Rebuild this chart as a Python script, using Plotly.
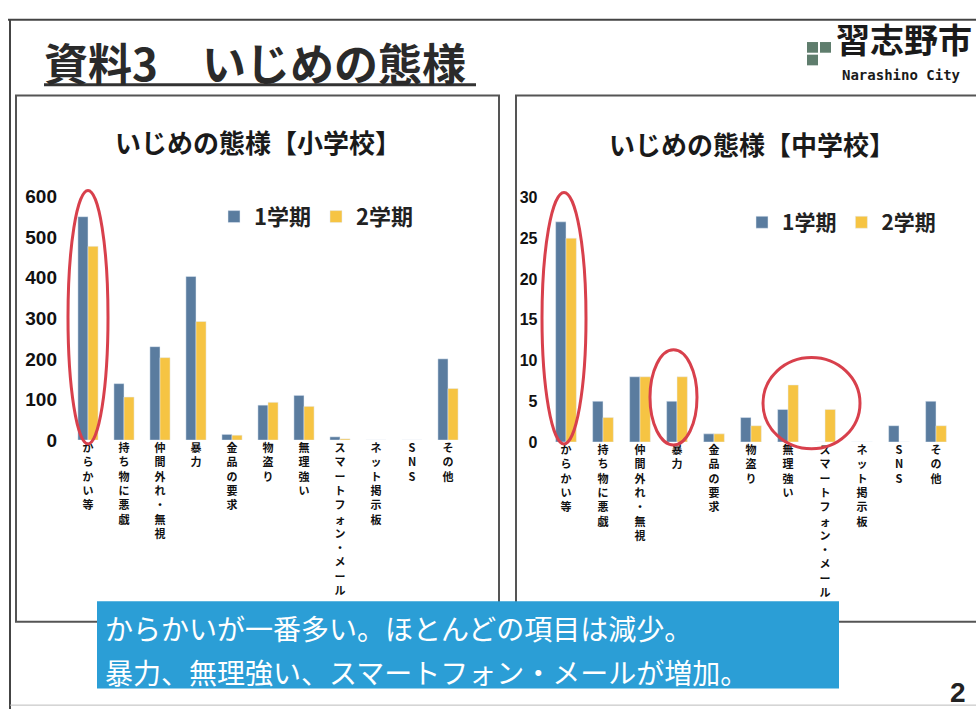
import plotly.graph_objects as go

W, H = 976, 720

categories = ["からかい等", "持ち物に悪戯", "仲間外れ・無視", "暴力", "金品の要求", "物盗り",
              "無理強い", "スマートフォン・メール", "ネット掲示板", "SNS", "その他"]
elem_term1 = [550, 139, 230, 403, 14, 86, 110, 8, 0, 0, 200]
elem_term2 = [477, 106, 203, 292, 12, 93, 83, 3, 0, 0, 127]
jhs_term1 = [27, 5, 8, 5, 1, 3, 4, 0, 0, 2, 5]
jhs_term2 = [25, 3, 8, 8, 1, 2, 7, 4, 0, 0, 2]
series_names = ["1学期", "2学期"]
elem_yticks = [0, 100, 200, 300, 400, 500, 600]
jhs_yticks = [0, 5, 10, 15, 20, 25, 30]

BLUE = "#5a7c9f"
YELLOW = "#f6c443"
RED = "#d8404c"
JP = "Noto Sans CJK JP"
NUM = "Liberation Sans, Noto Sans CJK JP"

vert_labels = ["<br>".join(list(c)) for c in categories]


def px(x):
    return x / W


def py(y):
    return 1 - y / H


fig = go.Figure()
fig.add_trace(go.Bar(x=categories, y=elem_term1, name=series_names[0], marker_color=BLUE,
                     xaxis="x", yaxis="y", legend="legend"))
fig.add_trace(go.Bar(x=categories, y=elem_term2, name=series_names[1], marker_color=YELLOW,
                     xaxis="x", yaxis="y", legend="legend"))
fig.add_trace(go.Bar(x=categories, y=jhs_term1, name=series_names[0], marker_color=BLUE,
                     xaxis="x2", yaxis="y2", legend="legend2"))
fig.add_trace(go.Bar(x=categories, y=jhs_term2, name=series_names[1], marker_color=YELLOW,
                     xaxis="x2", yaxis="y2", legend="legend2"))

xcommon = dict(type="category", categoryorder="array", categoryarray=categories,
               tickmode="array", tickvals=categories, ticktext=vert_labels,
               tickangle=0, showgrid=False, showline=False, zeroline=False, ticks="",
               tickfont=dict(family=JP, size=11, color="#111", weight="bold"))

fig.update_layout(
    width=W, height=H, margin=dict(l=0, r=0, t=0, b=0),
    paper_bgcolor="white", plot_bgcolor="rgba(0,0,0,0)",
    barmode="group", bargap=0.44, bargroupgap=0,
    xaxis=dict(domain=[px(70), px(466)], anchor="y", **xcommon),
    yaxis=dict(domain=[py(443), py(192)], anchor="x", range=[0, 600],
               tickvals=elem_yticks, showgrid=False, zeroline=False, showline=False,
               ticks="", ticklabelstandoff=12,
               tickfont=dict(family=NUM, size=19, color="#111", weight="bold")),
    xaxis2=dict(domain=[px(547.5), px(954.5)], anchor="y2", **xcommon),
    yaxis2=dict(domain=[py(445), py(193)], anchor="x2", range=[0, 30],
                tickvals=jhs_yticks, showgrid=False, zeroline=False, showline=False,
                ticks="", ticklabelstandoff=9,
                tickfont=dict(family=NUM, size=16, color="#111", weight="bold")),
    legend=dict(x=px(214), y=py(213), xanchor="left", yanchor="middle",
                orientation="h", bgcolor="rgba(0,0,0,0)", itemwidth=30,
                font=dict(family=JP, size=22, color="#222", weight="bold")),
    legend2=dict(x=px(742), y=py(219), xanchor="left", yanchor="middle",
                 orientation="h", bgcolor="rgba(0,0,0,0)", itemwidth=30,
                 font=dict(family=JP, size=21, color="#222", weight="bold")),
    font=dict(family=JP),
)

shapes = []
line_dark = dict(color="#444", width=2)
# slide frame
shapes.append(dict(type="line", xref="paper", yref="paper", x0=px(8), x1=px(990), y0=py(10), y1=py(10), line=line_dark))
shapes.append(dict(type="line", xref="paper", yref="paper", x0=px(10), x1=px(10), y0=py(10), y1=py(720), line=line_dark))
# panel boxes
shapes.append(dict(type="rect", xref="paper", yref="paper", x0=px(16), x1=px(499), y0=py(88), y1=py(630),
                   line=dict(color="#555", width=2)))
shapes.append(dict(type="rect", xref="paper", yref="paper", x0=px(516), x1=px(1000), y0=py(88), y1=py(630),
                   line=dict(color="#555", width=2)))
# title underline
shapes.append(dict(type="line", xref="paper", yref="paper", x0=px(44), x1=px(476), y0=py(77), y1=py(77),
                   line=dict(color="#333", width=3)))
# logo icon
shapes.append(dict(type="rect", xref="paper", yref="paper", x0=px(807), x1=px(818), y0=py(33), y1=py(44),
                   fillcolor="#5f7d6d", line=dict(width=0)))
shapes.append(dict(type="rect", xref="paper", yref="paper", x0=px(820), x1=px(831), y0=py(33), y1=py(44),
                   fillcolor="#5f7d6d", line=dict(width=0)))
shapes.append(dict(type="rect", xref="paper", yref="paper", x0=px(807), x1=px(818), y0=py(46), y1=py(57),
                   fillcolor="#5f7d6d", line=dict(width=0)))
# bottom line
shapes.append(dict(type="line", xref="paper", yref="paper", x0=px(10), x1=px(990), y0=py(716), y1=py(716),
                   line=dict(color="#bbb", width=1)))
# blue message box
shapes.append(dict(type="rect", xref="paper", yref="paper", x0=px(97), x1=px(839), y0=py(609), y1=py(699),
                   fillcolor="#2b9ed6", line=dict(width=0), layer="above"))
# red highlight ellipses
ell = dict(color=RED, width=3)
shapes.append(dict(type="circle", xref="paper", yref="paper", x0=px(68), x1=px(108), y0=py(447), y1=py(186), line=ell))
shapes.append(dict(type="circle", xref="paper", yref="paper", x0=px(542), x1=px(586), y0=py(447), y1=py(188), line=ell))
shapes.append(dict(type="circle", xref="paper", yref="paper", x0=px(650), x1=px(697), y0=py(448), y1=py(350), line=ell))
shapes.append(dict(type="circle", xref="paper", yref="paper", x0=px(763), x1=px(860), y0=py(452), y1=py(358), line=ell))
fig.update_layout(shapes=shapes)

ann = []
ann.append(dict(text="資料3　いじめの態様", x=px(42), y=py(54), xref="paper", yref="paper",
                xanchor="left", yanchor="middle", showarrow=False,
                font=dict(family=JP, size=44, color="#2a2a2a", weight="bold")))
ann.append(dict(text="習志野市", x=px(834), y=py(57), xref="paper", yref="paper",
                xanchor="left", yanchor="bottom", showarrow=False,
                font=dict(family=JP, size=34, color="#1a1a1a", weight="bold")))
ann.append(dict(text="Narashino City", x=px(840), y=py(57), xref="paper", yref="paper",
                xanchor="left", yanchor="top", showarrow=False,
                font=dict(family="DejaVu Sans Mono", size=14, color="#1a1a1a", weight="bold")))
ann.append(dict(text="いじめの態様【小学校】", x=px(258), y=py(135), xref="paper", yref="paper",
                xanchor="center", yanchor="middle", showarrow=False,
                font=dict(family=JP, size=26, color="#1a1a1a", weight="bold")))
ann.append(dict(text="いじめの態様【中学校】", x=px(752), y=py(138), xref="paper", yref="paper",
                xanchor="center", yanchor="middle", showarrow=False,
                font=dict(family=JP, size=26, color="#1a1a1a", weight="bold")))
ann.append(dict(text="からかいが一番多い。ほとんどの項目は減少。", x=px(103), y=py(637), xref="paper", yref="paper",
                xanchor="left", yanchor="middle", showarrow=False,
                font=dict(family=JP, size=28, color="white")))
ann.append(dict(text="暴力、無理強い、スマートフォン・メールが増加。", x=px(103), y=py(682), xref="paper", yref="paper",
                xanchor="left", yanchor="middle", showarrow=False,
                font=dict(family=JP, size=28, color="white")))
ann.append(dict(text="2", x=px(958), y=py(703), xref="paper", yref="paper",
                xanchor="center", yanchor="middle", showarrow=False,
                font=dict(family=NUM, size=28, color="#222", weight="bold")))
fig.update_layout(annotations=ann)

post = ("document.documentElement.style.overflow='hidden';"
        "document.body.style.margin='0';document.body.style.overflow='hidden';"
        "var gd=document.getElementById('{plot_id}');"
        "gd.style.position='fixed';gd.style.top='0px';gd.style.left='0px';")

fig.write_html("out.html", config={"displayModeBar": False}, post_script=post)
